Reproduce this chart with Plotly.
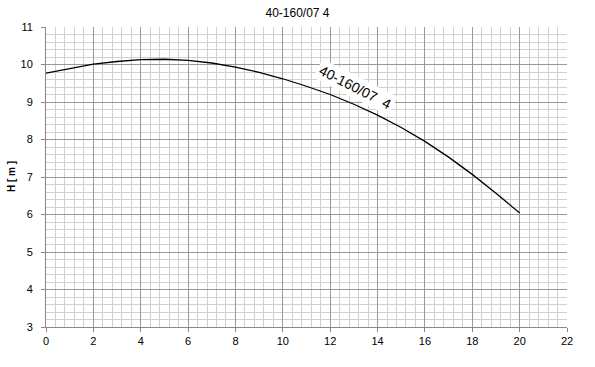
import plotly.graph_objects as go

flow_q = [0, 1, 2, 3, 4, 5, 6, 7, 8, 9, 10, 11, 12, 13, 14, 15, 16, 17, 18, 19, 20]
head_h = [9.77, 9.90, 10.01, 10.08, 10.13, 10.14, 10.11, 10.04, 9.93, 9.79, 9.62,
          9.42, 9.20, 8.94, 8.65, 8.32, 7.95, 7.53, 7.07, 6.57, 6.04]
title_text = "40-160/07 4"
curve_label = "40-160/07\u00a0 4"
y_title = "<b>H [ m ]</b>"

FONT = "Liberation Sans"

fig = go.Figure()
fig.add_trace(go.Scatter(x=flow_q, y=head_h, mode="lines",
                         line=dict(color="black", width=1.3), showlegend=False,
                         hoverinfo="skip"))

fig.add_annotation(x=13.05, y=9.4, xref="x", yref="y", text=curve_label,
                   textangle=27, showarrow=False, bgcolor="white",
                   font=dict(family=FONT, size=14, color="black"), borderpad=2)

fig.add_annotation(x=-0.067, y=0.5, xref="paper", yref="paper", text=y_title,
                   xanchor="center", yanchor="middle",
                   textangle=-90, showarrow=False,
                   font=dict(family=FONT, size=10, color="black"))

fig.update_layout(
    width=595, height=367,
    margin=dict(l=46, r=28, t=27, b=40, autoexpand=False),
    paper_bgcolor="white", plot_bgcolor="white",
    title=dict(text=title_text, x=0.5, xanchor="center", y=1 - 13 / 367, yanchor="middle",
               xref="container", yref="container",
               font=dict(family=FONT, size=12, color="black"), automargin=False),
    font=dict(family=FONT, size=11, color="black"),
)
fig.update_xaxes(range=[0, 22], dtick=2, tick0=0, showgrid=True,
                 gridcolor="#999999", gridwidth=1,
                 minor=dict(dtick=0.4, showgrid=True, gridcolor="#d0d0d0", gridwidth=1),
                 showline=True, linecolor="#888888", linewidth=1,
                 ticks="outside", ticklen=4, tickcolor="#888888",
                 tickfont=dict(family=FONT, size=11), zeroline=False, fixedrange=True,
                 automargin=False)
fig.update_yaxes(range=[3, 11], dtick=1, tick0=3, showgrid=True,
                 gridcolor="#999999", gridwidth=1,
                 minor=dict(dtick=0.2, showgrid=True, gridcolor="#d0d0d0", gridwidth=1),
                 showline=True, linecolor="#888888", linewidth=1,
                 ticks="outside", ticklen=4, tickcolor="#888888",
                 tickfont=dict(family=FONT, size=11), zeroline=False,
                 ticklabelstandoff=6,
                 fixedrange=True, automargin=False)

fig.write_html("out.html", config={"displayModeBar": False},
               post_script="document.body.style.margin='0';")
